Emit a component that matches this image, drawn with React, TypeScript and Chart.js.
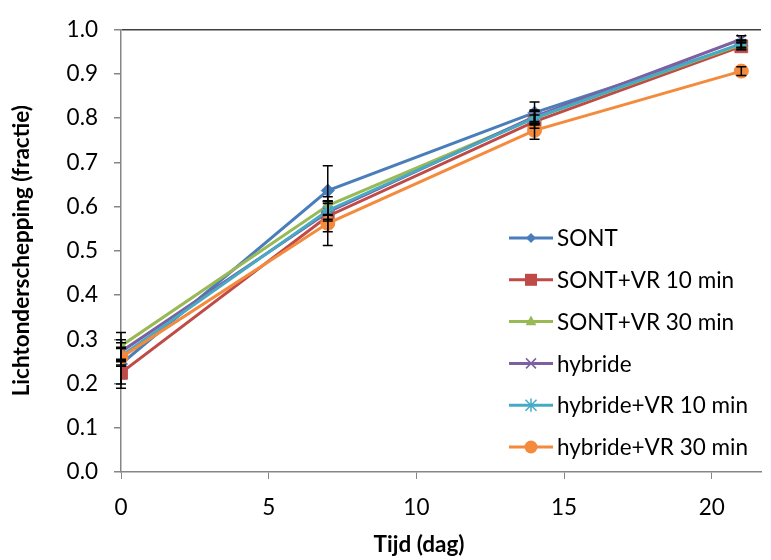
import React, { useEffect, useRef } from "react";
import { Chart, registerables } from "chart.js";

Chart.register(...registerables);

const days = [0, 7, 14, 21];
const seriesNames = [
  "SONT",
  "SONT+VR 10 min",
  "SONT+VR 30 min",
  "hybride",
  "hybride+VR 10 min",
  "hybride+VR 30 min",
];
const sont = [0.244, 0.636, 0.812, 0.965];
const sontVr10 = [0.224, 0.578, 0.792, 0.962];
const sontVr30 = [0.285, 0.602, 0.8, 0.966];
const hybride = [0.272, 0.587, 0.803, 0.978];
const hybrideVr10 = [0.262, 0.591, 0.8, 0.968];
const hybrideVr30 = [0.259, 0.562, 0.772, 0.906];

const sontErr = [0.055, 0.056, 0.024, 0.01];
const sontVr10Err = [0.025, 0.035, 0.015, 0.008];
const sontVr30Err = [0.03, 0.02, 0.015, 0.008];
const hybrideErr = [0.02, 0.02, 0.015, 0.008];
const hybrideVr10Err = [0.02, 0.02, 0.015, 0.008];
const hybrideVr30Err = [0.02, 0.05, 0.02, 0.01];

const yTicks = [0, 0.1, 0.2, 0.3, 0.4, 0.5, 0.6, 0.7, 0.8, 0.9, 1.0];
const xTicks = [0, 5, 10, 15, 20];

const allValues = [sont, sontVr10, sontVr30, hybride, hybrideVr10, hybrideVr30];
const allErrors = [sontErr, sontVr10Err, sontVr30Err, hybrideErr, hybrideVr10Err, hybrideVr30Err];
const colors = ["#4A7EBB", "#BE4B48", "#98B954", "#7D60A0", "#46AAC5", "#F38A3C"];
const markers = ["rectRot", "rect", "triangle", "crossRot", "star", "circle"];
const markerRadius = [6.5, 9, 7, 6.5, 6.5, 7];
const legendMarkerSize = [5, 6, 6, 5, 5.5, 6.5];

const FONT = "Lato, 'Open Sans', sans-serif";
const FS = 22.5;

const errorBarPlugin = {
  id: "errorBars",
  afterDatasetsDraw(chart: any) {
    const { ctx, scales } = chart;
    ctx.save();
    ctx.strokeStyle = "#000";
    ctx.lineWidth = 1.5;
    allErrors.forEach((errs, si) => {
      errs.forEach((e, i) => {
        if (e == null) return;
        const x = scales.x.getPixelForValue(days[i]);
        const yT = scales.y.getPixelForValue(allValues[si][i] + e);
        const yB = scales.y.getPixelForValue(allValues[si][i] - e);
        ctx.beginPath();
        ctx.moveTo(x, yT);
        ctx.lineTo(x, yB);
        ctx.moveTo(x - 5, yT);
        ctx.lineTo(x + 5, yT);
        ctx.moveTo(x - 5, yB);
        ctx.lineTo(x + 5, yB);
        ctx.stroke();
      });
    });
    ctx.restore();
  },
};

function drawMarker(ctx: CanvasRenderingContext2D, style: string, r: number, x: number, y: number, color: string) {
  ctx.save();
  ctx.fillStyle = color;
  ctx.strokeStyle = color;
  ctx.lineWidth = 1.5;
  ctx.beginPath();
  if (style === "rectRot") {
    ctx.moveTo(x, y - r);
    ctx.lineTo(x + r, y);
    ctx.lineTo(x, y + r);
    ctx.lineTo(x - r, y);
    ctx.closePath();
    ctx.fill();
  } else if (style === "rect") {
    ctx.rect(x - r, y - r, r * 2, r * 2);
    ctx.fill();
  } else if (style === "triangle") {
    ctx.moveTo(x, y - r);
    ctx.lineTo(x + r * 0.9, y + r * 0.6);
    ctx.lineTo(x - r * 0.9, y + r * 0.6);
    ctx.closePath();
    ctx.fill();
  } else if (style === "crossRot") {
    ctx.moveTo(x - r, y - r);
    ctx.lineTo(x + r, y + r);
    ctx.moveTo(x + r, y - r);
    ctx.lineTo(x - r, y + r);
    ctx.stroke();
  } else if (style === "star") {
    ctx.moveTo(x - r, y - r);
    ctx.lineTo(x + r, y + r);
    ctx.moveTo(x + r, y - r);
    ctx.lineTo(x - r, y + r);
    ctx.moveTo(x, y - r * 1.2);
    ctx.lineTo(x, y + r * 1.2);
    ctx.stroke();
  } else {
    ctx.arc(x, y, r, 0, Math.PI * 2);
    ctx.fill();
  }
  ctx.restore();
}

const legendPlugin = {
  id: "customLegend",
  afterDraw(chart: any) {
    const { ctx } = chart;
    const x0 = 509;
    const y0 = 238;
    const step = 41.8;
    ctx.save();
    chart.data.datasets.forEach((ds: any, i: number) => {
      const y = y0 + i * step;
      ctx.strokeStyle = ds.borderColor;
      ctx.lineWidth = 3;
      ctx.beginPath();
      ctx.moveTo(x0, y);
      ctx.lineTo(x0 + 44, y);
      ctx.stroke();
      drawMarker(ctx, ds.pointStyle, legendMarkerSize[i], x0 + 22, y, ds.pointBorderColor);
      ctx.fillStyle = "#000";
      ctx.font = `${FS}px ${FONT}`;
      ctx.textBaseline = "middle";
      ctx.textAlign = "left";
      ctx.fillText(ds.label, x0 + 48, y + 1);
    });
    ctx.restore();
  },
};

const xTitlePlugin = {
  id: "xTitle",
  afterDraw(chart: any) {
    const { ctx } = chart;
    ctx.save();
    ctx.fillStyle = "#000";
    ctx.font = `bold ${FS}px ${FONT}`;
    ctx.textAlign = "center";
    ctx.textBaseline = "middle";
    ctx.fillText("Tijd (dag)", 419, 545);
    ctx.restore();
  },
};

export default function App() {
  const ref = useRef<HTMLCanvasElement>(null);
  useEffect(() => {
    if (!ref.current) return;
    const datasets = allValues.map((vals, i) => ({
      label: seriesNames[i],
      data: vals.map((v, j) => ({ x: days[j], y: v })),
      borderColor: colors[i],
      backgroundColor: colors[i],
      pointBackgroundColor: colors[i],
      pointBorderColor: colors[i],
      pointStyle: markers[i],
      pointRadius: markerRadius[i],
      pointBorderWidth: markers[i] === "crossRot" || markers[i] === "star" ? 2 : 1,
      borderWidth: 3,
      tension: 0,
      order: 10 - i,
    }));
    const chart = new Chart(ref.current, {
      type: "line",
      data: { datasets },
      plugins: [errorBarPlugin, legendPlugin, xTitlePlugin],
      options: {
        animation: false,
        responsive: false,
        layout: { padding: { left: 0, top: 20, right: 0, bottom: 0 } },
        plugins: { legend: { display: false }, tooltip: { enabled: false } },
        scales: {
          x: {
            type: "linear",
            min: 0,
            max: 650 / 30,
            afterBuildTicks: (scale: any) => {
              scale.ticks = xTicks.map((v) => ({ value: v }));
            },
            afterFit: (scale: any) => {
              scale.height = 88;
            },
            grid: {
              drawOnChartArea: false,
              drawTicks: true,
              tickLength: 7,
              tickColor: "#868686",
            },
            border: { display: true, color: "#868686", width: 1.5 },
            ticks: {
              color: "#000",
              font: { family: FONT, size: FS },
              padding: 15,
              maxRotation: 0,
              callback: (v: any) => String(v),
            },
          },
          y: {
            type: "linear",
            min: 0,
            max: 1,
            afterBuildTicks: (scale: any) => {
              scale.ticks = yTicks.map((v) => ({ value: v }));
            },
            afterFit: (scale: any) => {
              scale.width = 121;
            },
            grid: {
              color: (c: any) => (c.tick && Math.abs(c.tick.value - 1) < 1e-6 ? "#404040" : "rgba(0,0,0,0)"),
              lineWidth: 1.5,
              drawTicks: true,
              tickLength: 7,
              tickColor: "#868686",
            },
            border: { display: true, color: "#868686", width: 1.5 },
            title: {
              display: true,
              text: "Lichtonderschepping (fractie)",
              color: "#000",
              font: { family: FONT, size: FS, weight: "bold" },
              padding: { top: 8, bottom: 0 },
            },
            ticks: {
              color: "#000",
              font: { family: FONT, size: FS },
              padding: 16,
              callback: (v: any) => Number(v).toFixed(1),
            },
          },
        },
      },
    } as any);
    return () => chart.destroy();
  }, []);
  return (
    <div style={{ position: "fixed", left: 0, top: 0, width: 771, height: 560, background: "#fff" }}>
      <canvas ref={ref} width={771} height={560} style={{ width: 771, height: 560 }} />
    </div>
  );
}
